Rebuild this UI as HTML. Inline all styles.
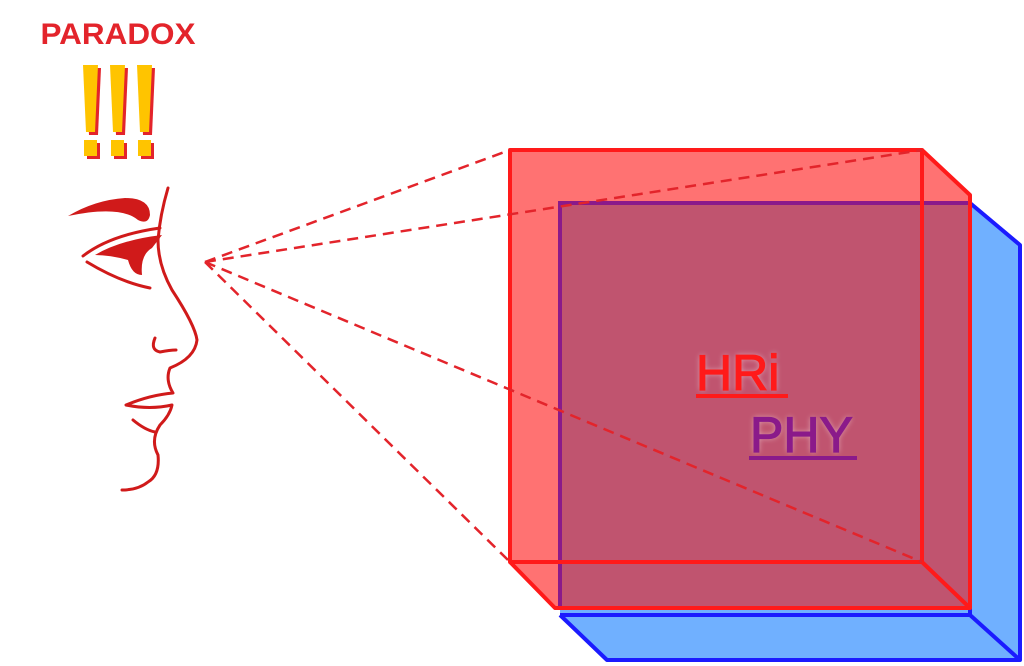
<!DOCTYPE html>
<html><head><style>
html,body{margin:0;padding:0;background:#fff;width:1024px;height:666px;overflow:hidden}
</style></head><body>
<svg width="1024" height="666" viewBox="0 0 1024 666" xmlns="http://www.w3.org/2000/svg">
<text x="118" y="44" text-anchor="middle" font-family="Liberation Sans, sans-serif" font-size="30" font-weight="bold" fill="#e3242b" textLength="155" lengthAdjust="spacingAndGlyphs">PARADOX</text>
<g fill="#e3242b" transform="translate(3,3)">
<polygon points="83,65 98,65 95,132 86,132"/><rect x="84" y="140" width="13" height="16"/>
<polygon points="110,65 125,65 122,132 113,132"/><rect x="111" y="140" width="13" height="16"/>
<polygon points="137,65 152,65 149,132 140,132"/><rect x="138" y="140" width="13" height="16"/>
</g>
<g fill="#ffc400">
<polygon points="83,65 98,65 95,132 86,132"/><rect x="84" y="140" width="13" height="16"/>
<polygon points="110,65 125,65 122,132 113,132"/><rect x="111" y="140" width="13" height="16"/>
<polygon points="137,65 152,65 149,132 140,132"/><rect x="138" y="140" width="13" height="16"/>
</g>
<!-- face -->
<g fill="none" stroke="#d01a1a" stroke-width="3" stroke-linecap="round" stroke-linejoin="round">
<path d="M168,188 Q160,215 158,240 Q158,265 172,290 Q195,325 197,340 Q195,358 170,368 Q165,380 173,393 Q150,395 126,405 Q150,410 172,405 Q170,415 160,425 Q150,440 158,455 Q160,475 148,482 Q138,490 122,490"/>
<path d="M155,338 Q150,350 160,352 Q170,350 176,350"/>
<path d="M133,420 Q145,430 155,432"/>
<path d="M83,256 Q110,235 160,228"/>
<path d="M87,262 Q120,282 150,288"/>
</g>
<path d="M68,216 Q95,200 125,198 Q150,198 150,215 Q148,225 138,220 Q120,205 68,216 Z" fill="#d01a1a"/>
<path d="M95,255 Q120,240 162,235 L152,248 Q140,255 142,275 Q132,275 128,260 Q110,255 95,255 Z" fill="#d01a1a"/>
<!-- blue cuboid -->
<polygon points="560,203 970,203 1020,245 1020,660 607,660 560,615" fill="#70b0ff"/>
<polygon points="560,203 970,203 970,608 560,608" fill="#c0546f"/>
<rect x="510" y="150" width="412" height="412" fill="#ff7272"/>
<polygon points="922,150 970,195 970,203 922,203" fill="#ff7272"/>
<polygon points="922,203 970,203 970,608 922,562" fill="#c0546f"/>
<polygon points="510,562 560,562 560,608 555,608" fill="#ff7272"/>
<rect x="560" y="203" width="362" height="359" fill="#c0546f"/>
<g fill="none" stroke="#1b1bff" stroke-width="4" stroke-linejoin="round">
<polyline points="970,203 1020,245 1020,660 607,660 560,615"/>
<line x1="970" y1="615" x2="1020" y2="660"/>
<line x1="560" y1="615" x2="970" y2="615"/>
<line x1="970" y1="203" x2="970" y2="615"/>
</g>
<g fill="none" stroke="#8a1a8a" stroke-width="4">
<polyline points="560,608 560,203 970,203"/>
</g>
<g fill="none" stroke="#ff1a1a" stroke-width="4" stroke-linejoin="round">
<rect x="510" y="150" width="412" height="412"/>
<polyline points="922,150 970,195 970,608 555,608 510,562"/>
<line x1="922" y1="562" x2="970" y2="608"/>
</g>
<g stroke="#e3242b" stroke-width="2.5" stroke-dasharray="11,7" fill="none">
<line x1="205" y1="262" x2="510" y2="150"/>
<line x1="205" y1="262" x2="922" y2="150"/>
<line x1="205" y1="262" x2="510" y2="562"/>
<line x1="205" y1="262" x2="922" y2="562"/>
</g>
<defs><filter id="g" x="-20%" y="-20%" width="140%" height="140%"><feGaussianBlur stdDeviation="3"/></filter></defs>
<g font-family="Liberation Sans, sans-serif" font-size="50" stroke-width="1.2">
<text x="696" y="390" fill="#fff" opacity="0.5" filter="url(#g)">HRi</text>
<text x="696" y="390" fill="#ff1a1a" stroke="#ff1a1a">HRi</text>
<rect x="696" y="394" width="92" height="4" fill="#ff1a1a"/>
<text x="750" y="452" fill="#fff" opacity="0.5" filter="url(#g)">PHY</text>
<text x="750" y="452" fill="#8a1a8a" stroke="#8a1a8a">PHY</text>
<rect x="749" y="456" width="108" height="4" fill="#8a1a8a"/>
</g>
</svg>
</body></html>
